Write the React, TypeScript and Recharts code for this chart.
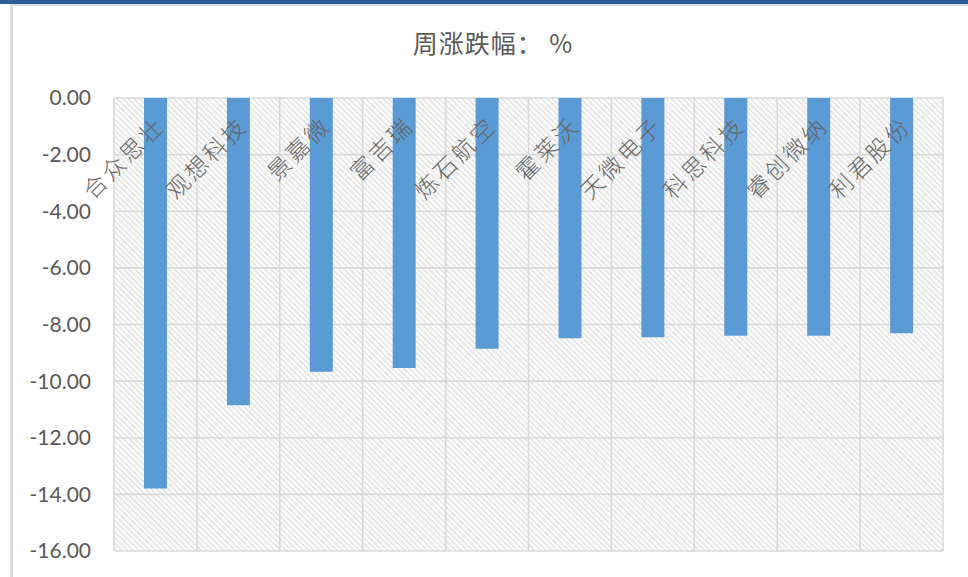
import React from 'react';
import { BarChart, Bar, XAxis, YAxis, CartesianGrid } from 'recharts';

const categories = ['合众思壮', '观想科技', '景嘉微', '富吉瑞', '炼石航空', '霍莱沃', '天微电子', '科思科技', '睿创微纳', '利君股份'];
const weeklyChange = [-13.79, -10.85, -9.67, -9.54, -8.86, -8.49, -8.45, -8.4, -8.4, -8.31];
const yTicks = [0, -2, -4, -6, -8, -10, -12, -14, -16];
const chartTitle = '周涨跌幅： %';

const data = categories.map((name, i) => ({ name, value: weeklyChange[i] }));

const GRID = '#D9D9D9';
const TEXT = '#595959';

const CategoryTick = (props: any) => {
  const { x, y, payload } = props;
  const ax = x + 4;
  const ay = y + 30;
  return (
    <text
      x={ax}
      y={ay}
      textAnchor="end"
      dominantBaseline="central"
      transform={`rotate(-45, ${ax}, ${ay})`}
      fontFamily="'Noto Sans CJK SC', sans-serif"
      fontSize={23}
      fontWeight={300}
      letterSpacing={3}
      fill="#666666"
    >
      {payload.value}
    </text>
  );
};

export default function App() {
  const n = categories.length;
  return (
    <div style={{ position: 'fixed', left: 0, top: 0, width: 968, height: 577, background: '#fff', overflow: 'hidden' }}>
      <svg width={0} height={0} style={{ position: 'absolute' }}>
        <defs>
          <pattern id="hatch" patternUnits="userSpaceOnUse" width={4} height={4} patternTransform="rotate(-45)">
            <rect x={0} y={0} width={4} height={4} fill="#ffffff" />
            <line x1={1} y1={0} x2={1} y2={4} stroke="#D4D4D4" strokeWidth={1.1} />
          </pattern>
        </defs>
      </svg>
      <div style={{ position: 'absolute', left: 0, top: 0, width: 968, height: 4, background: '#2E5C9A' }} />
      <div style={{ position: 'absolute', left: 10, top: 4, width: 958, height: 2, background: '#DCDCDC' }} />
      <div style={{ position: 'absolute', left: 10, top: 4, width: 3, height: 573, background: '#DCDCDC' }} />
      <div
        style={{
          position: 'absolute',
          left: 0,
          width: 968,
          top: 27,
          textAlign: 'center',
          paddingLeft: 18,
          boxSizing: 'border-box',
          fontFamily: "'Noto Sans CJK SC', sans-serif",
          fontSize: 25,
          letterSpacing: 1,
          lineHeight: '30px',
          color: TEXT,
        }}
      >
        {chartTitle}
      </div>
      <BarChart width={968} height={577} data={data} margin={{ top: 68, right: 25, bottom: 26, left: 14 }} barCategoryGap={0}>
        <CartesianGrid
          stroke={GRID}
          strokeWidth={1.6}
          fill="url(#hatch)"
          fillOpacity={1}
          verticalCoordinatesGenerator={({ offset }: any) =>
            Array.from({ length: n + 1 }, (_, i) => offset.left + (i * offset.width) / n)
          }
        />
        <YAxis
          type="number"
          domain={[-16, 0]}
          ticks={yTicks}
          interval={0}
          width={100}
          tickLine={false}
          axisLine={false}
          tickMargin={17}
          tickFormatter={(v: number) => v.toFixed(2)}
          tick={{ fill: TEXT, fontSize: 21, fontFamily: 'Lato, sans-serif' }}
        />
        <Bar dataKey="value" fill="#5B9BD5" barSize={23} isAnimationActive={false} />
        <XAxis
          dataKey="name"
          orientation="top"
          height={30}
          interval={0}
          tickLine={false}
          axisLine={false}
          tick={<CategoryTick />}
        />
      </BarChart>
    </div>
  );
}
